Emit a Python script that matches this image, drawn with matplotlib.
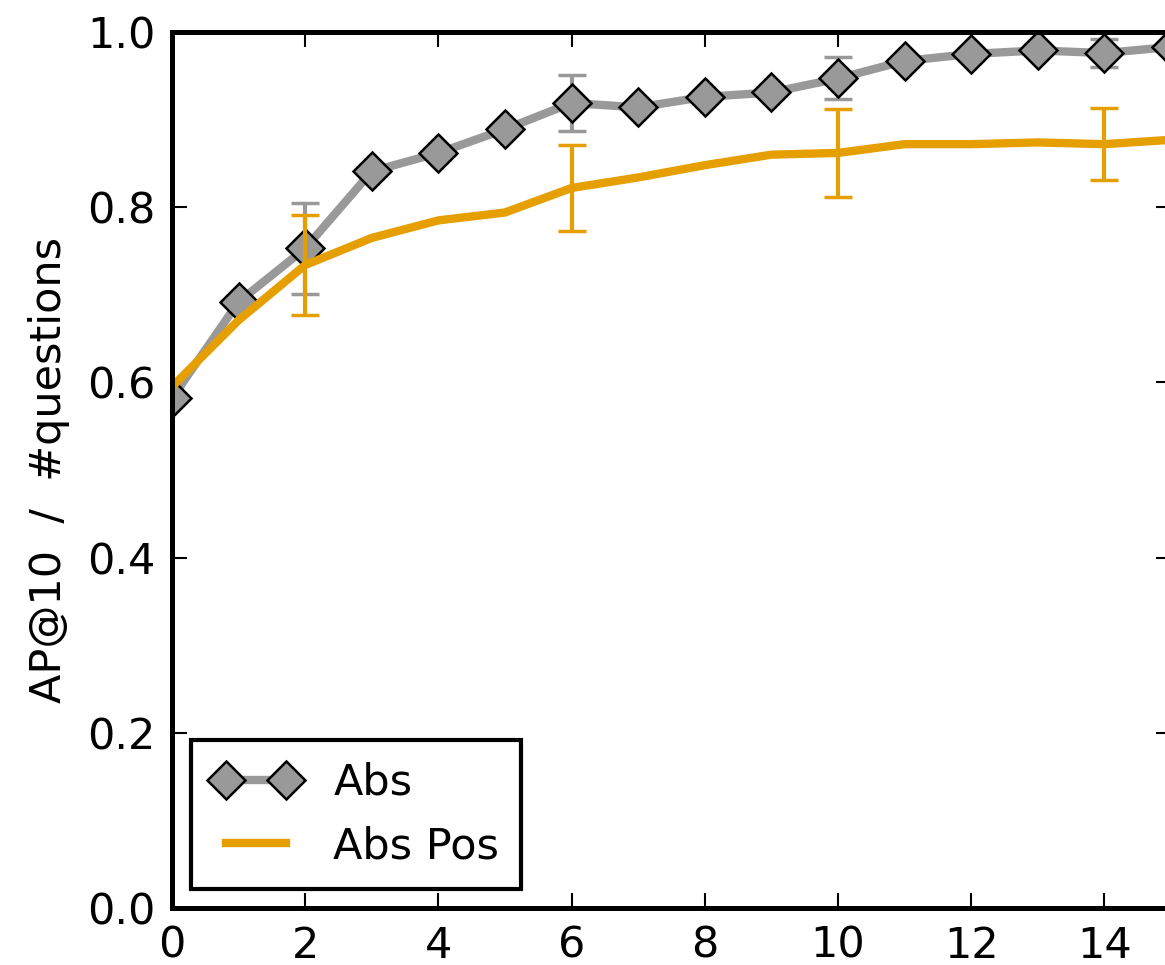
import matplotlib
matplotlib.use("Agg")
import matplotlib.pyplot as plt

# data
steps = list(range(16))
abs_vals = [0.582, 0.692, 0.753, 0.841, 0.862, 0.889, 0.919, 0.914,
            0.926, 0.931, 0.947, 0.967, 0.975, 0.979, 0.976, 0.983]
abs_pos_vals = [0.595, 0.671, 0.734, 0.765, 0.785, 0.794, 0.822, 0.834,
                0.848, 0.860, 0.862, 0.872, 0.872, 0.874, 0.872, 0.877]

err_steps = [2, 6, 10, 14]
abs_err = [0.052, 0.032, 0.024, 0.016]
abs_pos_err = [0.057, 0.049, 0.050, 0.041]

x_ticks = list(range(0, 16, 2))
y_ticks = [0.0, 0.2, 0.4, 0.6, 0.8, 1.0]

gray = "#999999"
orange = "#E69F00"

plt.rcParams["font.family"] = "DejaVu Sans"
plt.rcParams["font.size"] = 31

fig = plt.figure(figsize=(11.65, 9.65), dpi=100)
ax = fig.add_axes([0.1476, 0.059, 0.8575, 0.9078])

abs_at = [abs_vals[s] for s in err_steps]
pos_at = [abs_pos_vals[s] for s in err_steps]

ax.errorbar(err_steps, abs_at, yerr=abs_err, fmt="none", ecolor=gray,
            elinewidth=3, capsize=10, capthick=2.5, zorder=2)
ax.plot(steps, abs_vals, color=gray, lw=6, marker="D", markersize=19,
        markerfacecolor=gray, markeredgecolor="black", markeredgewidth=1.8,
        label="Abs", zorder=2.1)
ax.plot(steps, abs_pos_vals, color=orange, lw=6, label="Abs Pos", zorder=2.2)
ax.errorbar(err_steps, pos_at, yerr=abs_pos_err, fmt="none", ecolor=orange,
            elinewidth=3, capsize=10, capthick=2.5, zorder=2.2)

ax.set_xlim(0, 15)
ax.set_ylim(0, 1.0)
ax.set_xticks(x_ticks)
ax.set_yticks(y_ticks)
ax.set_yticklabels([f"{v:.1f}" for v in y_ticks])
ax.tick_params(direction="in", length=11, width=1.5, top=True, right=True,
               pad=12)

for sp in ax.spines.values():
    sp.set_linewidth(3.6)

ax.set_ylabel("AP@10  /  #questions", labelpad=12)

leg = ax.legend(loc="lower left", numpoints=2, fancybox=False,
                framealpha=1.0, borderaxespad=0.45, handlelength=2.0,
                handletextpad=0.8, labelspacing=0.5, borderpad=0.5)
leg.get_frame().set_edgecolor("black")
leg.get_frame().set_linewidth(3.0)

fig.savefig("out.png", dpi=100)
